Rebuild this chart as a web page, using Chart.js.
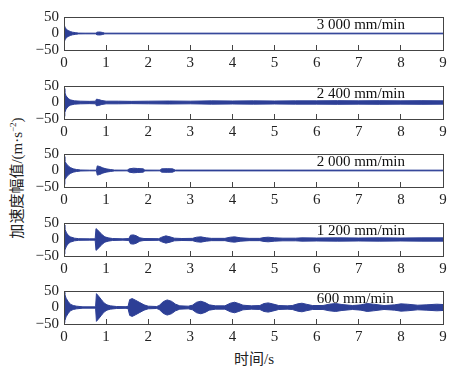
<!DOCTYPE html>
<html>
<head>
<meta charset="utf-8">
<script src="https://cdn.jsdelivr.net/npm/chart.js@4.4.1/dist/chart.umd.min.js"></script>
<style>
body { margin: 0; background: #fff; width: 462px; height: 374px; position: relative; overflow: hidden; font-family: "Liberation Serif", "Noto Sans CJK SC", serif; color: #222; }
canvas { position: absolute; left: 0; }
#ylab { position: absolute; left: 15px; top: 178px; transform: translate(-50%, -50%) rotate(-90deg); white-space: nowrap; font-size: 15px; }
#ylab sup { font-size: 9px; }
#xlab { position: absolute; left: 254px; top: 357px; transform: translate(-50%, -50%); white-space: nowrap; font-size: 15px; }
</style>
</head>
<body>
<div id="ylab">加速度幅值/(m·s<sup>−2</sup>)</div>
<div id="xlab">时间/s</div>
<script>
// feed rate of each panel, top to bottom
const feedRates = ['3 000 mm/min', '2 400 mm/min', '2 000 mm/min', '1 200 mm/min', '600 mm/min'];

// amplitude envelope of the acceleration signal: [time s, amplitude m/s^2]
const env3000 = [[0,26],[0.03,18],[0.06,12],[0.1,9],[0.15,6],[0.2,4],[0.28,2.5],[0.35,1.2],[0.5,1],[0.76,1],[0.78,4],[0.85,4.5],[0.92,3],[0.97,1],[9,1]];
const env2400 = [[0,42],[0.02,30],[0.05,20],[0.1,12],[0.15,8],[0.25,5],[0.4,4],[0.6,3.5],[0.75,4],[0.77,10],[0.82,9],[0.9,6],[1.0,4],[1.3,4],[1.6,3.5],[2,4],[2.5,4.5],[3,4],[3.5,5],[4,4.5],[4.5,5],[5,4.5],[5.5,5],[6,5],[6.5,5.5],[7,5],[7.5,5.5],[8,5],[8.5,5.5],[9,5]];
const env2000 = [[0,42],[0.02,28],[0.06,20],[0.1,14],[0.15,9],[0.22,5],[0.3,3],[0.4,1.5],[0.6,1],[0.77,1],[0.79,14],[0.85,12],[0.92,8],[1.0,5],[1.1,3],[1.2,1.2],[1.5,1],[1.55,5],[1.65,7],[1.75,6],[1.88,5],[1.92,1.2],[2.28,1],[2.32,5],[2.45,5.5],[2.58,5],[2.64,1.2],[9,1]];
const env1200 = [[0,44],[0.02,32],[0.06,20],[0.1,13],[0.15,8],[0.25,4],[0.35,2.5],[0.6,2],[0.74,2],[0.76,33],[0.83,25],[0.9,15],[0.97,8],[1.05,5],[1.15,3],[1.4,2],[1.54,3],[1.58,13],[1.65,14],[1.72,11],[1.8,5],[1.9,3],[2.25,2.5],[2.32,7],[2.42,11],[2.52,8],[2.62,4],[2.8,3],[3.05,3.5],[3.15,7],[3.25,8],[3.38,5],[3.5,3.5],[3.82,3.5],[3.95,7],[4.05,8],[4.2,5],[4.4,3.5],[4.65,3.5],[4.75,6],[4.85,7],[5.0,5],[5.2,4],[5.5,4],[5.65,5],[6,4.5],[6.5,5],[7,4.5],[7.5,5],[8,4.5],[8.5,5],[9,5]];
const env600 = [[0,46],[0.02,40],[0.05,28],[0.1,18],[0.15,10],[0.22,6],[0.3,4],[0.45,2],[0.75,2],[0.77,42],[0.83,33],[0.88,25],[0.95,14],[1.02,8],[1.1,5],[1.25,3],[1.45,2.5],[1.52,3],[1.56,24],[1.62,27],[1.7,22],[1.8,15],[1.9,8],[2.0,4],[2.2,3],[2.26,6],[2.36,18],[2.45,23],[2.55,19],[2.65,10],[2.75,5],[2.95,4],[3.05,7],[3.15,16],[3.25,19],[3.35,15],[3.45,8],[3.6,5],[3.82,5],[3.95,13],[4.05,16],[4.15,12],[4.25,7],[4.45,5],[4.65,6],[4.75,12],[4.85,14],[4.95,11],[5.1,6],[5.3,5],[5.42,6],[5.55,11],[5.65,13],[5.75,10],[5.9,6],[6.15,6],[6.3,10],[6.45,12],[6.6,9],[6.85,6],[7.05,8],[7.2,12],[7.35,10],[7.6,6],[7.85,8],[8.0,11],[8.15,10],[8.4,7],[8.6,8],[8.85,10],[9,9]];

const envelopes = [env3000, env2400, env2000, env1200, env600];
const yTicks = [-50, 0, 50];
const panelTops = [13, 81.5, 150, 218.5, 287];

const serif = '"Liberation Serif", serif';
const signalColor = '#2d3f96';

const frame = {
    id: 'frame',
    afterDraw(chart) {
        const {ctx, chartArea: a} = chart;
        ctx.save();
        ctx.strokeStyle = '#444';
        ctx.lineWidth = 1;
        ctx.strokeRect(Math.round(a.left) + 0.5, Math.round(a.top) + 0.5, Math.round(a.width), Math.round(a.height));
        ctx.restore();
    }
};

const speedLabel = {
    id: 'speedLabel',
    afterDatasetsDraw(chart, args, opts) {
        const {ctx, scales: {x, y}} = chart;
        ctx.save();
        ctx.font = '15px ' + serif;
        ctx.fillStyle = '#111';
        ctx.textBaseline = 'middle';
        ctx.fillText(opts.text, x.getPixelForValue(6), y.getPixelForValue(26));
        ctx.restore();
    }
};

envelopes.forEach((env, i) => {
    const canvas = document.createElement('canvas');
    canvas.width = 462;
    canvas.height = 69;
    canvas.style.top = (panelTops[i] - 10) + 'px';
    document.body.appendChild(canvas);

    new Chart(canvas.getContext('2d'), {
        type: 'line',
        data: {
            datasets: [{
                data: env.map(p => ({x: p[0], y: p[1]})),
                borderColor: signalColor,
                borderWidth: 1,
                pointRadius: 0,
                fill: false
            }, {
                data: env.map(p => ({x: p[0], y: -p[1]})),
                borderColor: signalColor,
                backgroundColor: signalColor,
                borderWidth: 1,
                pointRadius: 0,
                fill: '-1'
            }]
        },
        options: {
            responsive: false,
            animation: false,
            plugins: {
                legend: {display: false},
                tooltip: {enabled: false},
                speedLabel: {text: feedRates[i]}
            },
            layout: {
                padding: {top: 10, left: 0, right: 19, bottom: 0}
            },
            scales: {
                x: {
                    type: 'linear',
                    min: 0,
                    max: 9,
                    afterFit: s => { s.height = 22; },
                    ticks: {stepSize: 1, color: '#222', font: {family: serif, size: 15}, padding: 9, maxRotation: 0, autoSkip: false},
                    grid: {drawOnChartArea: false, tickLength: -5, color: '#444'},
                    border: {color: '#444'}
                },
                y: {
                    min: -50,
                    max: 50,
                    afterFit: s => { s.width = 64; },
                    afterBuildTicks: s => { s.ticks = yTicks.map(v => ({value: v})); },
                    ticks: {color: '#222', font: {family: serif, size: 15}, padding: 5, autoSkip: false,
                        callback: v => String(v).replace('-', '−')},
                    grid: {drawOnChartArea: false, drawTicks: false},
                    border: {color: '#444'}
                }
            }
        },
        plugins: [frame, speedLabel]
    });
});
</script>
</body>
</html>
